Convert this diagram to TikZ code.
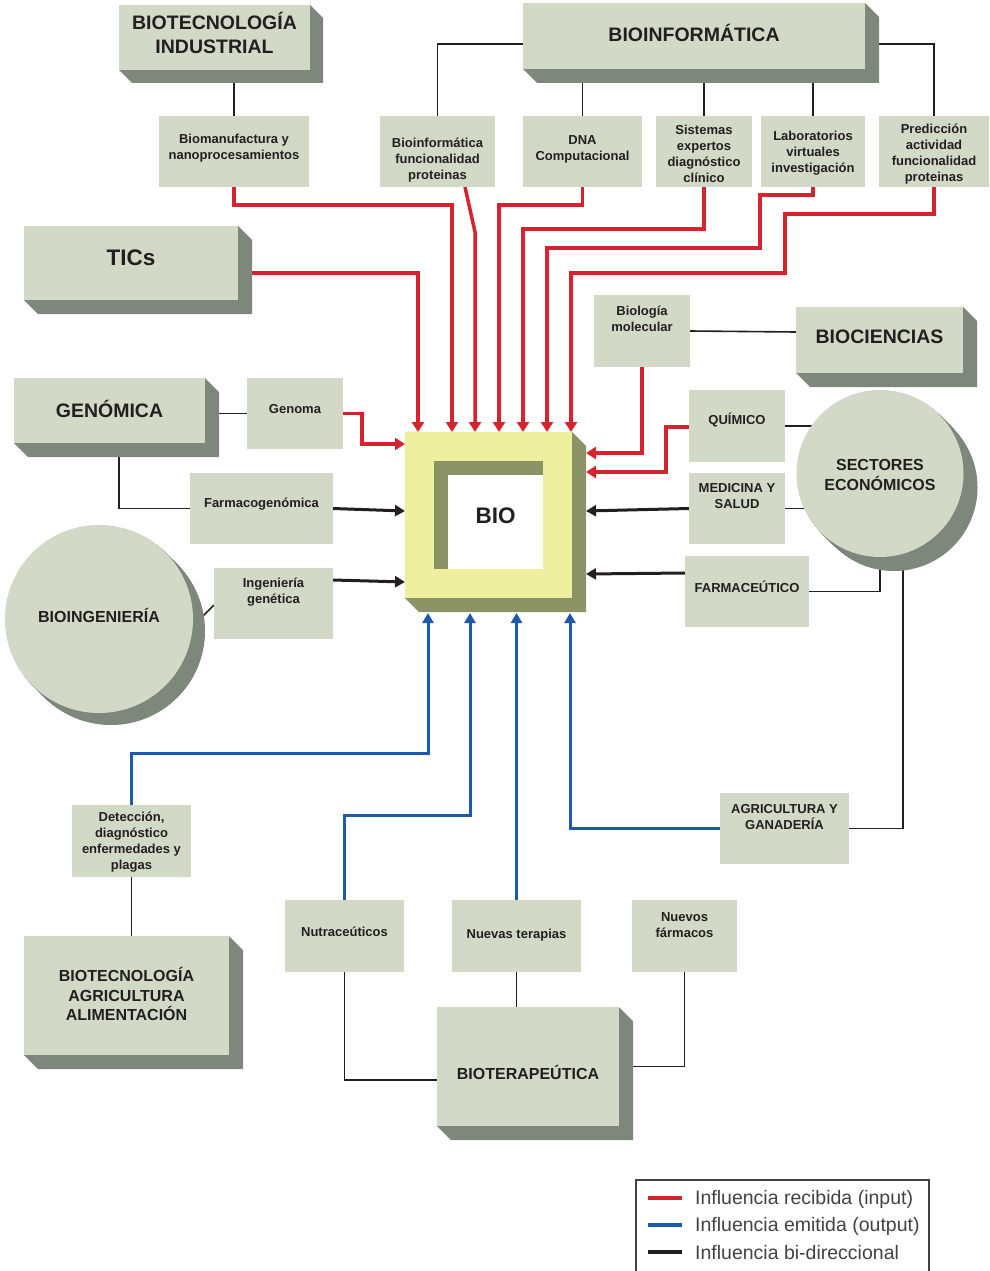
\documentclass[tikz,border=0pt]{standalone}
\usepackage{fontspec}
\setmainfont{Liberation Sans}
\usetikzlibrary{arrows.meta,calc}
\definecolor{boxc}{HTML}{D2D9C6}
\definecolor{shdc}{HTML}{7E877C}
\definecolor{yel}{HTML}{EFEFA0}
\definecolor{olv}{HTML}{8C9467}
\definecolor{redc}{HTML}{D7232E}
\definecolor{bluc}{HTML}{1E5AAA}
\definecolor{ink}{HTML}{231F20}
\pgfdeclarelayer{lines}
\pgfdeclarelayer{shadow}
\pgfsetlayers{lines,shadow,main}
\newcommand\tdshadow[2]{\fill[shdc] (#1.north east) -- ++(#2,#2) -- ($(#1.south east)+(#2,#2)$) -- ($(#1.south west)+(#2,#2)$) -- (#1.south west) -- (#1.south east) -- cycle;}
\begin{document}
\begin{tikzpicture}[x=1pt,y=-1pt,
  box/.style={fill=boxc, draw=none, rectangle, anchor=north west, inner sep=0pt, outer sep=0pt},
  circ/.style={fill=boxc, draw=none, circle, inner sep=0pt, outer sep=0pt},
  sl/.style={font=\bfseries\fontsize{13}{16}\selectfont, text=ink, align=center, inner sep=0pt},
  bl/.style={font=\bfseries\fontsize{19.5}{24.5}\selectfont, text=ink, align=center, inner sep=0pt},
  ml/.style={font=\bfseries\fontsize{16}{19.5}\selectfont, text=ink, align=center, inner sep=0pt},
  hl/.style={font=\bfseries\fontsize{22.5}{26}\selectfont, text=ink, align=center, inner sep=0pt},
  stx/.style 2 args={label={[sl,yshift=#2-1.5]center:{#1}}},
  btx/.style 2 args={label={[bl,yshift=#2]center:{#1}}},
  mtx/.style 2 args={label={[ml,yshift=#2]center:{#1}}},
  htx/.style 2 args={label={[hl,yshift=#2]center:{#1}}},
  conn/.style={draw=ink, line width=1.6pt},
  rin/.style={draw=redc, line width=3.5pt, -{Triangle[width=12pt,length=10pt]}},
  bout/.style={draw=bluc, line width=3pt, -{Triangle[width=11pt,length=10pt]}},
  bk/.style={draw=ink, line width=3pt, -{Triangle[width=11pt,length=10pt]}},
  leg/.style={font=\fontsize{19.5}{22}\selectfont, text=ink!85, anchor=west, inner sep=0pt}
]
\useasboundingbox (0,0) rectangle (990,1271);

% ---------- big 3D boxes ----------
\node[box, minimum width=191pt, minimum height=65pt, btx={BIOTECNOLOGÍA\\INDUSTRIAL}{4.5}] (biotecind) at (119,5) {};
\node[box, minimum width=342pt, minimum height=66pt, btx={BIOINFORMÁTICA}{3}] (bioinf) at (523,3) {};
\node[box, minimum width=214pt, minimum height=74pt, htx={TICs}{5}] (tics) at (24,226) {};
\node[box, minimum width=191pt, minimum height=65pt, btx={GENÓMICA}{1.5}] (genomica) at (14,378) {};
\node[box, minimum width=167pt, minimum height=66pt, btx={BIOCIENCIAS}{3}] (biociencias) at (796,307) {};
\node[box, minimum width=205pt, minimum height=119pt, mtx={BIOTECNOLOGÍA\\AGRICULTURA\\ALIMENTACIÓN}{1.5}] (biotecagri) at (24,936) {};
\node[box, minimum width=182pt, minimum height=119pt, mtx={BIOTERAPEÚTICA}{-6}] (bioter) at (437,1007) {};

% ---------- circles ----------
\node[circ, minimum size=188pt, mtx={BIOINGENIERÍA}{4}] (bioing) at (99,619) {};
\node[circ, minimum size=167pt, mtx={SECTORES\\ECONÓMICOS}{-1.5}] (sectores) at (880,473.5) {};

\begin{pgfonlayer}{shadow}
\tdshadow{biotecind}{13}
\tdshadow{bioinf}{14}
\tdshadow{tics}{14}
\tdshadow{genomica}{14}
\tdshadow{biociencias}{14}
\tdshadow{biotecagri}{14}
\tdshadow{bioter}{14}
\foreach \k in {0.5,1,...,12} \fill[shdc] ($(bioing.center)+(\k,\k)$) circle[radius=94pt];
\foreach \k in {0.5,1,...,14} \fill[shdc] ($(sectores.center)+(\k,\k)$) circle[radius=83.5pt];
\end{pgfonlayer}

% ---------- BIO ----------
\fill[olv] (572,432) -- (586,446) -- (586,612) -- (419,612) -- (405,598) -- (572,598) -- cycle;
\fill[yel] (405,432) rectangle (572,598);
\fill[olv] (434,461) rectangle (543,569);
\fill[white] (448,475) rectangle (543,569);
\node[inner sep=0pt, outer sep=0pt, minimum width=181pt, minimum height=181pt, anchor=north west, htx={BIO}{7}] (bio) at (405,432) {};

% ---------- small boxes ----------
\node[box, minimum width=150pt, minimum height=71pt, stx={Biomanufactura y\\nanoprocesamientos}{4.5}] (biomanuf) at (159,116) {};
\node[box, minimum width=115pt, minimum height=71pt, stx={Bioinformática\\funcionalidad\\proteinas}{-7.5}] (bioinffunc) at (380,116) {};
\node[box, minimum width=119pt, minimum height=71pt, stx={DNA\\Computacional}{3.5}] (dna) at (523,116) {};
\node[box, minimum width=96pt, minimum height=71pt, stx={Sistemas\\expertos\\diagnóstico\\clínico}{-1}] (sistemas) at (656,116) {};
\node[box, minimum width=104pt, minimum height=71pt, stx={Laboratorios\\virtuales\\investigación}{0}] (lab) at (761,116) {};
\node[box, minimum width=110pt, minimum height=71pt, stx={Predicción\\actividad\\funcionalidad\\proteinas}{-1}] (predic) at (879,116) {};
\node[box, minimum width=96pt, minimum height=72pt, stx={Biología\\molecular}{13.5}] (biolmol) at (594,295) {};
\node[box, minimum width=96pt, minimum height=71pt, stx={Genoma}{5.5}] (genoma) at (247,378) {};
\node[box, minimum width=143pt, minimum height=71pt, stx={Farmacogenómica}{5.5}] (farmacog) at (190,473) {};
\node[box, minimum width=119pt, minimum height=71pt, stx={Ingeniería\\genética}{13}] (ingen) at (214,568) {};
\node[box, minimum width=96pt, minimum height=72pt, stx={QUÍMICO}{7}] (quimico) at (689,390) {};
\node[box, minimum width=96pt, minimum height=71pt, stx={MEDICINA Y\\SALUD}{13.5}] (medicina) at (689,473) {};
\node[box, minimum width=124pt, minimum height=71pt, stx={FARMACEÚTICO}{6.5}] (farma) at (685,556) {};
\node[box, minimum width=129pt, minimum height=71pt, stx={AGRICULTURA Y\\GANADERÍA}{12.5}] (agri) at (720,793) {};
\node[box, minimum width=119pt, minimum height=72pt, stx={Detección,\\diagnóstico\\enfermedades y\\plagas}{0}] (detec) at (72,805) {};
\node[box, minimum width=119pt, minimum height=72pt, stx={Nutraceúticos}{6}] (nutra) at (285,900) {};
\node[box, minimum width=129pt, minimum height=72pt, stx={Nuevas terapias}{2.5}] (nuevas) at (452,900) {};
\node[box, minimum width=105pt, minimum height=72pt, stx={Nuevos\\fármacos}{12}] (nuevosf) at (632,900) {};

% ---------- connectors ----------
\begin{pgfonlayer}{lines}
% red (input)
\draw[rin] (biomanuf.south) |- (452,205) -- (452,0 |- bio.north);
\draw[rin] ([xshift=27.5pt]bioinffunc.south) -- (475,232) -- (475,0 |- bio.north);
\draw[rin] (dna.south) |- (499,205) -- (499,0 |- bio.north);
\draw[rin] (sistemas.south) |- (523,229) -- (523,0 |- bio.north);
\draw[rin] (lab.south) |- (760,195) |- (547,248) -- (547,0 |- bio.north);
\draw[rin] (predic.south) |- (785,214) |- (571,273) -- (571,0 |- bio.north);
\draw[rin] ([xshift=14pt,yshift=-10pt]tics.east) -| (418,0 |- bio.north);
\draw[rin] (genoma.east) -| (362,444) -- (bio.west |- 0,444);
\draw[rin] (biolmol.south) |- (bio.east |- 0,453);
\draw[rin] ([yshift=-1pt]quimico.west) -| (666,472) -- (bio.east |- 0,472);
% black arrows
\draw[bk] (medicina.west) -- (bio.east |- 0,511);
\draw[bk] ([yshift=18.5pt]farma.west) -- (bio.east |- 0,574);
\draw[bk] (farmacog.east) -- (bio.west |- 0,511);
\draw[bk] ([yshift=23.5pt]ingen.east) -- (bio.west |- 0,582);
% blue (output)
\draw[bout] (detec.north) |- (428,753) -- (428,0 |- bio.south);
\draw[bout] (nutra.north) |- (470,815) -- (470,0 |- bio.south);
\draw[bout] (nuevas.north) -- (nuevas.north |- bio.south);
\draw[bout] (agri.west) -| (570,0 |- bio.south);
% plain connectors
\draw[conn] (biomanuf.north) -- (biomanuf.north |- biotecind.center);
\draw[conn] ([yshift=-8pt]bioinf.west) -| (bioinffunc.north);
\draw[conn] (dna.north) -- (dna.north |- bioinf.center);
\draw[conn] (sistemas.north) -- (sistemas.north |- bioinf.center);
\draw[conn] (lab.north) -- (lab.north |- bioinf.center);
\draw[conn] ([yshift=-8pt]bioinf.east) -| (predic.north);
\draw[conn] (genoma.west) -- (genoma.west -| genomica.center);
\draw[conn] ([xshift=9.5pt]genomica.center) |- (farmacog.west);
\draw[conn] ([yshift=-1.5pt]ingen.west) -- ++(-16,16);
\draw[conn] (biolmol.east) -- ([yshift=8pt]biociencias.west);
\draw[conn] (quimico.east) -- (quimico.east -| sectores.center);
\draw[conn] (medicina.east) -- (medicina.east -| sectores.center);
\draw[conn] (farma.east) -| (sectores.center);
\draw[conn] (agri.east) -| ([xshift=23pt]sectores.center);
\draw[conn] (detec.south) -- (detec.south |- biotecagri.center);
\draw[conn] (nutra.south) |- ([yshift=-13.5pt]bioter.west);
\draw[conn] (nuevas.south) -- (nuevas.south |- bioter.center);
\draw[conn] (nuevosf.south) |- (bioter.center);
\end{pgfonlayer}

% ---------- legend ----------
\node[draw=ink!85, line width=1.2pt, minimum width=293pt, minimum height=96pt, anchor=north west, inner sep=0pt, outer sep=0pt] (legend) at (636,1180) {};
\node[leg] (leg1) at (695,1199) {Influencia recibida (input)};
\node[leg] (leg2) at (695,1226) {Influencia emitida (output)};
\node[leg] (leg3) at (695,1253) {Influencia bi-direccional};
\draw[redc, line width=4pt] ([xshift=-13pt,yshift=1pt]leg1.west) -- ++(-34,0);
\draw[bluc, line width=4pt] ([xshift=-13pt,yshift=1pt]leg2.west) -- ++(-34,0);
\draw[ink, line width=4pt] ([xshift=-13pt,yshift=1pt]leg3.west) -- ++(-34,0);
\end{tikzpicture}
\end{document}
